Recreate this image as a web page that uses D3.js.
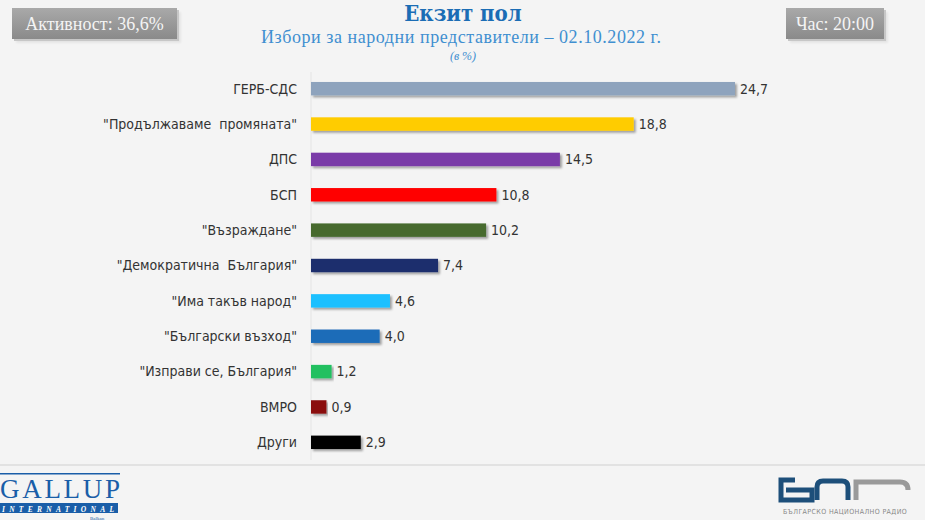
<!DOCTYPE html>
<html lang="bg">
<head>
    <meta charset="UTF-8">
    <title>Екзит пол</title>
    <script src="https://cdn.jsdelivr.net/npm/d3@7"></script>
    <style>
        body { margin: 0; background: #f4f4f4; }
        svg { display: block; }
        .lbl { font-family: "Liberation Sans Narrow", "DejaVu Sans Condensed", sans-serif; font-size: 14px; fill: #333; }
        .val { font-family: "Liberation Sans Narrow", "DejaVu Sans Condensed", sans-serif; font-size: 14px; fill: #333; }
    </style>
</head>
<body>
    <script>
        var parties = ["ГЕРБ-СДС", "\"Продължаваме  промяната\"", "ДПС", "БСП", "\"Възраждане\"",
            "\"Демократична  България\"", "\"Има такъв народ\"", "\"Български възход\"",
            "\"Изправи се, България\"", "ВМРО", "Други"];
        var values = [24.7, 18.8, 14.5, 10.8, 10.2, 7.4, 4.6, 4.0, 1.2, 0.9, 2.9];
        var colors = ["#8ea3bd", "#ffcc00", "#7a3aa8", "#ff0000", "#466b2f", "#1b2f6d",
            "#1ec0ff", "#1f6cb8", "#20c060", "#8a1111", "#000000"];

        var data = parties.map((p, i) => ({ name: p, value: values[i], color: colors[i] }));

        var width = 925, height = 520;
        var svg = d3.select("body").append("svg")
            .attr("width", width)
            .attr("height", height);

        var defs = svg.append("defs");
        var shadow = defs.append("filter").attr("id", "shadow")
            .attr("x", "-5%").attr("y", "-30%").attr("width", "115%").attr("height", "180%");
        shadow.append("feDropShadow").attr("dx", 2).attr("dy", 2)
            .attr("stdDeviation", 1.2).attr("flood-color", "#000").attr("flood-opacity", 0.35);

        var badgeGrad = defs.append("linearGradient").attr("id", "badge")
            .attr("x1", 0).attr("y1", 0).attr("x2", 0).attr("y2", 1);
        badgeGrad.append("stop").attr("offset", "0%").attr("stop-color", "#a9a9a9");
        badgeGrad.append("stop").attr("offset", "100%").attr("stop-color", "#8a8a8a");

        // scales
        var x = d3.scaleLinear().domain([0, 24.7]).range([311, 735]);
        var y = d3.scaleBand()
            .domain(parties)
            .range([71, 460])
            .paddingInner(0.62)
            .paddingOuter(0.31);

        // badges
        function badge(x0, w, txt) {
            svg.append("rect").attr("x", x0 + 2).attr("y", 10).attr("width", w).attr("height", 31)
                .attr("fill", "#000").attr("opacity", 0.18).attr("filter", "url(#shadow)");
            svg.append("rect").attr("x", x0).attr("y", 8).attr("width", w).attr("height", 31)
                .attr("fill", "url(#badge)");
            svg.append("text").attr("x", x0 + w / 2).attr("y", 29.5)
                .attr("text-anchor", "middle")
                .attr("font-family", "Liberation Serif, serif")
                .attr("font-size", 18).attr("fill", "#f4f4f4")
                .text(txt);
        }
        badge(12, 165, "Активност: 36,6%");
        badge(786, 98, "Час: 20:00");

        // titles
        svg.append("text").attr("x", 463).attr("y", 21).attr("text-anchor", "middle")
            .attr("font-family", "DejaVu Serif Condensed, Liberation Serif, serif")
            .attr("font-weight", "bold").attr("font-size", 22).attr("fill", "#1b6db5")
            .text("Екзит пол");
        svg.append("text").attr("x", 461).attr("y", 43).attr("text-anchor", "middle")
            .attr("font-family", "Liberation Serif, serif")
            .attr("font-size", 18).attr("fill", "#3f8fd0")
            .attr("textLength", 400)
            .text("Избори за народни представители  – 02.10.2022  г.");
        svg.append("text").attr("x", 463).attr("y", 60).attr("text-anchor", "middle")
            .attr("font-family", "Liberation Serif, serif").attr("font-style", "italic")
            .attr("font-size", 12).attr("fill", "#3f8fd0")
            .text("(в %)");

        // axis line
        svg.append("line").attr("x1", x(0)).attr("x2", x(0)).attr("y1", 72).attr("y2", 460)
            .attr("stroke", "#e4e4e4").attr("stroke-width", 1);

        // bars
        svg.selectAll(".bar")
            .data(data)
            .enter().append("rect")
            .attr("class", "bar")
            .attr("x", x(0))
            .attr("y", d => y(d.name))
            .attr("width", d => x(d.value) - x(0))
            .attr("height", y.bandwidth())
            .attr("fill", d => d.color)
            .attr("filter", "url(#shadow)");

        // category labels
        svg.selectAll(".lbl")
            .data(data)
            .enter().append("text")
            .attr("class", "lbl")
            .attr("x", 297)
            .attr("y", d => y(d.name) + y.bandwidth() / 2)
            .attr("dy", "0.35em")
            .attr("text-anchor", "end")
            .attr("xml:space", "preserve")
            .text(d => d.name);

        // values
        svg.selectAll(".val")
            .data(data)
            .enter().append("text")
            .attr("class", "val")
            .attr("x", d => x(d.value) + 5)
            .attr("y", d => y(d.name) + y.bandwidth() / 2)
            .attr("dy", "0.35em")
            .text(d => d3.format(".1f")(d.value).replace(".", ","));

        // bottom rule
        svg.append("line").attr("x1", 0).attr("x2", width).attr("y1", 465).attr("y2", 465)
            .attr("stroke", "#dcdcdc").attr("stroke-width", 1.5);

        // Gallup logo
        var g = svg.append("g");
        g.append("rect").attr("x", 0).attr("y", 473).attr("width", 120).attr("height", 1.5).attr("fill", "#1a5ea8");
        g.append("text").attr("x", 0).attr("y", 498)
            .attr("font-family", "Liberation Serif, serif").attr("font-size", 27)
            .attr("fill", "#1a5ea8").attr("textLength", 120).text("GALLUP");
        g.append("rect").attr("x", 0).attr("y", 503).attr("width", 118).attr("height", 10).attr("fill", "#1a5ea8");
        g.append("text").attr("x", 2).attr("y", 511.5)
            .attr("font-family", "Liberation Serif, serif").attr("font-style", "italic")
            .attr("font-weight", "bold").attr("font-size", 7.5).attr("textLength", 112)
            .attr("fill", "#fff").text("INTERNATIONAL");
        g.append("text").attr("x", 90).attr("y", 519.5)
            .attr("font-family", "Liberation Serif, serif").attr("font-size", 5)
            .attr("fill", "#1a5ea8").text("Balkan");

        // BNR logo
        var b = svg.append("g").attr("fill", "none").attr("stroke-linecap", "butt");
        b.append("path").attr("d", "M 795 480 L 781 480 L 781 500 L 812 500 L 812 490 L 786 490")
            .attr("stroke", "#1d4f7a").attr("stroke-width", 5);
        b.append("path").attr("d", "M 817 500 L 817 487 Q 817 481 823 481 L 842 481 Q 848 481 848 487 L 848 500")
            .attr("stroke", "#1d4f7a").attr("stroke-width", 5);
        b.append("path").attr("d", "M 856 500 L 856 482 L 900 482 Q 908 482 908 490")
            .attr("stroke", "#9a9a9a").attr("stroke-width", 5);
        svg.append("text").attr("x", 845).attr("y", 514).attr("text-anchor", "middle")
            .attr("font-family", "DejaVu Sans Condensed, sans-serif").attr("font-size", 7)
            .attr("fill", "#888").attr("letter-spacing", 0.4)
            .text("БЪЛГАРСКО НАЦИОНАЛНО РАДИО");
    </script>
</body>
</html>
